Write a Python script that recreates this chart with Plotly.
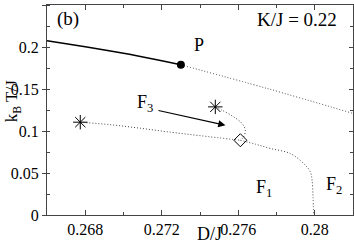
import plotly.graph_objects as go

# solid transition line (left of P)
solid_D = [0.266, 0.268, 0.270, 0.272, 0.273]
solid_T = [0.2075, 0.2003, 0.1925, 0.1835, 0.1788]

# dotted line from P to right edge
p_dot_D = [0.273, 0.2775, 0.2820]
p_dot_T = [0.1788, 0.1507, 0.1209]

# dotted line from left star to diamond
low_D = [0.26774, 0.26931, 0.27088, 0.27245, 0.27402, 0.27611]
low_T = [0.1105, 0.1075, 0.1033, 0.0986, 0.0944, 0.0890]

# dotted line from upper star bending down to diamond
up_D = [0.2748, 0.27515, 0.27576, 0.27620, 0.27637, 0.27628, 0.27611]
up_T = [0.1287, 0.1248, 0.1168, 0.1089, 0.1010, 0.0930, 0.0890]

# dotted line from diamond down to axis
down_D = [0.27611, 0.27690, 0.27768, 0.27872, 0.27942, 0.27977, 0.27986, 0.27991, 0.27994]
down_T = [0.0890, 0.0843, 0.0792, 0.0732, 0.0613, 0.0513, 0.0414, 0.0215, 0.0]

P_point = (0.273, 0.1788)
star_D = [0.26774, 0.2748]
star_T = [0.1105, 0.1287]
diamond = (0.27611, 0.0890)

x_ticks = [0.268, 0.272, 0.276, 0.280]
x_tick_text = ["0.268", "0.272", "0.276", "0.28"]
y_ticks = [0, 0.05, 0.1, 0.15, 0.2, 0.25]
y_tick_text = ["0", "0.05", "0.1", "0.15", "0.2", "0.25"]

XR = [0.266, 0.282]
YR = [0, 0.25]
FONT = "Liberation Serif, Times New Roman, serif"

fig = go.Figure()
fig.add_trace(go.Scatter(x=solid_D, y=solid_T, mode="lines",
                         line=dict(color="black", width=1.5), line_shape="spline"))
dot = dict(color="#444444", width=1, dash="1px,2px")
for xs, ys in [(p_dot_D, p_dot_T), (low_D, low_T), (up_D, up_T), (down_D, down_T)]:
    fig.add_trace(go.Scatter(x=xs, y=ys, mode="lines", line=dot, line_shape="spline"))
fig.add_trace(go.Scatter(x=[P_point[0]], y=[P_point[1]], mode="markers",
                         marker=dict(symbol="circle", size=8, color="black")))
fig.add_trace(go.Scatter(x=star_D, y=star_T, mode="markers",
                         marker=dict(symbol="asterisk-open", size=12, color="black",
                                     line=dict(color="black", width=1))))
fig.add_trace(go.Scatter(x=[diamond[0]], y=[diamond[1]], mode="markers",
                         marker=dict(symbol="diamond-open", size=10, color="black",
                                     line=dict(color="black", width=1))))
# invisible trace for mirror axes
fig.add_trace(go.Scatter(x=[XR[0]], y=[YR[0]], xaxis="x2", yaxis="y2",
                         mode="markers", marker=dict(opacity=0), hoverinfo="skip"))

fig.update_layout(
    width=354, height=245,
    margin=dict(l=47, r=1, t=5, b=30),
    paper_bgcolor="white", plot_bgcolor="white",
    showlegend=False,
    font=dict(family=FONT, color="black", size=16),
    xaxis=dict(range=XR, tickvals=x_ticks, ticktext=x_tick_text,
               ticks="inside", ticklen=5, tickwidth=1, tickcolor="#444",
               minor=dict(dtick=0.002, tick0=0.266, ticks="inside", ticklen=3, tickcolor="#444"),
               showgrid=False, zeroline=False, showline=True, linecolor="#444", linewidth=1.2,
               tickfont=dict(size=16, family=FONT)),
    yaxis=dict(range=YR, tickvals=y_ticks, ticktext=y_tick_text,
               ticks="outside", ticklen=4, tickwidth=1, tickcolor="#444",
               minor=dict(dtick=0.025, tick0=0, ticks="inside", ticklen=3, tickcolor="#444"),
               showgrid=False, zeroline=False, showline=True, linecolor="#444", linewidth=1.2,
               tickfont=dict(size=16, family=FONT)),
    xaxis2=dict(range=XR, overlaying="x", side="top", anchor="y2",
                tickvals=x_ticks, ticks="inside", ticklen=5, tickcolor="#444",
                minor=dict(dtick=0.002, tick0=0.266, ticks="inside", ticklen=3, tickcolor="#444"),
                showticklabels=False, showgrid=False, zeroline=False,
                showline=True, linecolor="#444", linewidth=1.2),
    yaxis2=dict(range=YR, overlaying="y", side="right", anchor="x2",
                tickvals=y_ticks, ticks="inside", ticklen=4, tickcolor="#444",
                minor=dict(dtick=0.025, tick0=0, ticks="inside", ticklen=3, tickcolor="#444"),
                showticklabels=False, showgrid=False, zeroline=False,
                showline=True, linecolor="#444", linewidth=1.2),
)

annotations = [
    dict(text="D/J", x=0.2745, y=-0.1445, xref="x", yref="paper", yanchor="bottom",
         xanchor="center", borderpad=0, showarrow=False, font=dict(size=18, family=FONT)),
    dict(text="k<sub>B</sub> T/J", x=-0.112, y=0.54, xref="paper", yref="paper",
         xanchor="center", yanchor="middle", borderpad=0,
         textangle=-90, showarrow=False, font=dict(size=17, family=FONT)),
    dict(text="(b)", x=0.2671, y=0.2328, xref="x", yref="y", showarrow=False,
         xanchor="center", font=dict(size=19, family=FONT)),
    dict(text="K/J = 0.22", x=0.28128, y=0.2328, xref="x", yref="y", xanchor="right",
         showarrow=False, font=dict(size=19, family=FONT)),
    dict(text="P", x=0.27395, y=0.2022, xref="x", yref="y", showarrow=False,
         xanchor="center", font=dict(size=18, family=FONT)),
    dict(text="F<sub>3</sub>", x=0.27114, y=0.1330, xref="x", yref="y", showarrow=False,
         xanchor="center", font=dict(size=18, family=FONT)),
    dict(text="F<sub>1</sub>", x=0.27735, y=0.0310, xref="x", yref="y", showarrow=False,
         xanchor="center", font=dict(size=18, family=FONT)),
    dict(text="F<sub>2</sub>", x=0.28100, y=0.0350, xref="x", yref="y", showarrow=False,
         xanchor="center", font=dict(size=18, family=FONT)),
    dict(text="", x=0.27533, y=0.1069, ax=0.27175, ay=0.1248, xref="x", yref="y",
         axref="x", ayref="y", showarrow=True, arrowhead=2, arrowsize=1.2,
         arrowwidth=1.2, arrowcolor="black"),
]
fig.update_layout(annotations=annotations)
fig.write_html("out.html", config={"displayModeBar": False},
               post_script="document.body.style.margin='0';document.body.style.padding='0';")
